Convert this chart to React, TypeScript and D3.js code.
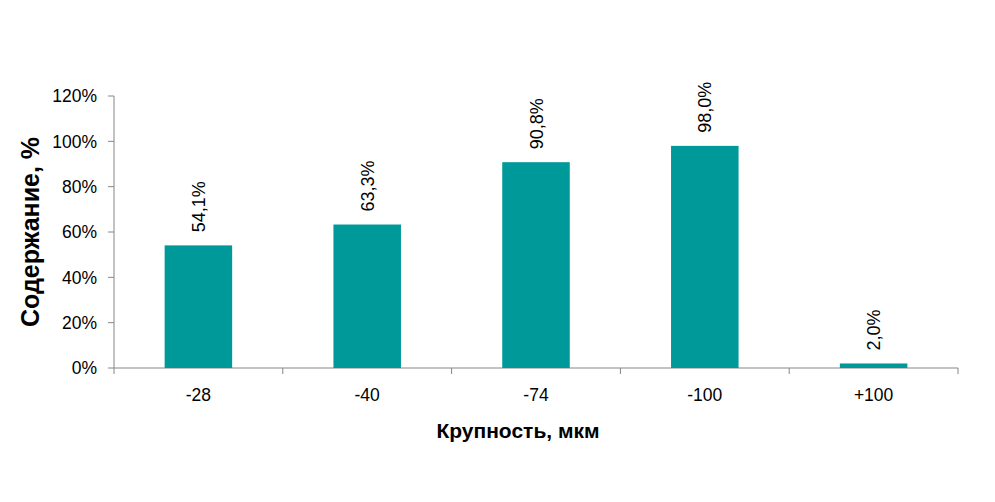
import React from "react";
import * as d3 from "d3";

const categories = ["-28", "-40", "-74", "-100", "+100"];
const values = [54.1, 63.3, 90.8, 98.0, 2.0];
const yTicks = [0, 20, 40, 60, 80, 100, 120];

const W = 995;
const H = 502;
const margin = { left: 114, right: 37, top: 96, bottom: 134 };
const font = "'Liberation Sans', Arial, sans-serif";

const App = () => {
    const x = d3
        .scaleBand()
        .domain(categories)
        .range([margin.left, W - margin.right])
        .paddingInner(0.6)
        .paddingOuter(0.3);
    const y = d3
        .scaleLinear()
        .domain([0, 120])
        .range([H - margin.bottom, margin.top]);
    const fmt = (v) => d3.format(".1f")(v).replace(".", ",") + "%";
    const x0 = margin.left;
    const x1 = W - margin.right;
    const yBase = y(0);

    return (
        <svg
            width={W}
            height={H}
            style={{ position: "absolute", left: 0, top: 0, background: "#fff" }}
            fontFamily={font}
        >
            {/* y axis */}
            <line x1={x0} x2={x0} y1={y(120)} y2={yBase} stroke="#868686" />
            {yTicks.map((t) => (
                <g key={t}>
                    <line x1={x0 - 6} x2={x0} y1={y(t)} y2={y(t)} stroke="#868686" />
                    <text x={x0 - 17} y={y(t)} dy="0.36em" textAnchor="end" fontSize="17.5" fill="#000">
                        {t}%
                    </text>
                </g>
            ))}
            {/* x axis */}
            <line x1={x0} x2={x1} y1={yBase} y2={yBase} stroke="#868686" />
            {d3.range(categories.length + 1).map((i) => {
                const xx = x0 + i * ((x1 - x0) / categories.length);
                return <line key={i} x1={xx} x2={xx} y1={yBase} y2={yBase + 6} stroke="#868686" />;
            })}
            {categories.map((c) => (
                <text key={c} x={x(c) + x.bandwidth() / 2} y={yBase + 33} textAnchor="middle" fontSize="17.5" fill="#000">
                    {c}
                </text>
            ))}
            {/* bars */}
            {categories.map((c, i) => (
                <rect key={c} x={x(c)} y={y(values[i])} width={x.bandwidth()} height={yBase - y(values[i])} fill="#009999" />
            ))}
            {categories.map((c, i) => {
                const cx = x(c) + x.bandwidth() / 2;
                const cy = y(values[i]) - 13;
                return (
                    <text key={c} transform={`translate(${cx + 6.5},${cy}) rotate(-90)`} textAnchor="start" fontSize="18" fill="#000">
                        {fmt(values[i])}
                    </text>
                );
            })}
            {/* titles */}
            <text transform={`translate(39,${(y(120) + yBase) / 2}) rotate(-90)`} textAnchor="middle" fontSize="25" fontWeight="bold" fill="#000">
                Содержание, %
            </text>
            <text x={518} y={438} textAnchor="middle" fontSize="21" fontWeight="bold" fill="#000">
                Крупность, мкм
            </text>
        </svg>
    );
};

export default App;
